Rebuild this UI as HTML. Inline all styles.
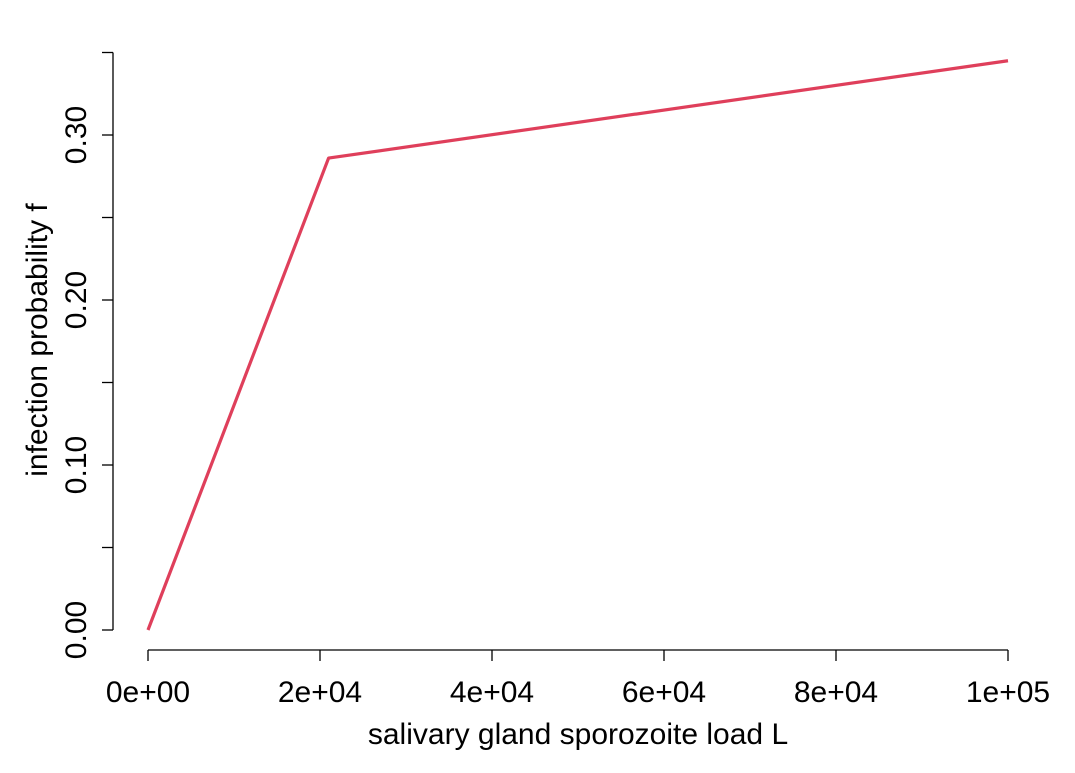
<!DOCTYPE html>
<html><head><meta charset="utf-8"><style>
body{margin:0;background:#fff;}
svg text{font-family:"Liberation Sans",Arial,sans-serif;fill:#000;}
</style></head><body>
<svg width="1075" height="768" viewBox="0 0 1075 768" xmlns="http://www.w3.org/2000/svg">
<g id="axes"></g>
<polyline id="line" fill="none" stroke="#DF3F5B" stroke-width="3.2" stroke-linejoin="round"></polyline>
<text x="578" y="744" font-size="30" text-anchor="middle">salivary gland sporozoite load L</text>
<text transform="translate(47,340) rotate(-90)" font-size="30" text-anchor="middle">infection probability f</text>
</svg>
<script>
const xTicks=[0,20000,40000,60000,80000,100000];
const xTickLabels=["0e+00","2e+04","4e+04","6e+04","8e+04","1e+05"];
const yTicks=[0,0.05,0.1,0.15,0.2,0.25,0.3,0.35];
const yTickLabels=["0.00","","0.10","","0.20","","0.30",""];
const loadL=[0,21000,100000];
const probF=[0,0.286,0.345];
const sx=v=>148+v/100000*860;
const sy=v=>630-v/0.3*495;
const NS="http://www.w3.org/2000/svg";
const g=document.getElementById('axes');
function mk(t,a){const e=document.createElementNS(NS,t);for(const k in a)e.setAttribute(k,a[k]);g.appendChild(e);return e;}
let e=mk('line',{x1:sx(0),x2:sx(100000),y1:650,y2:650,stroke:'#000','stroke-width':1.3});


e=mk('line',{x1:113,x2:113,y1:sy(0),y2:sy(0.35),stroke:'#000','stroke-width':1.3});


xTicks.forEach((v,i)=>{
 const t=mk('line',{x1:sx(v),x2:sx(v),y1:650,y2:661,stroke:'#000','stroke-width':1.3});
 
 
 const l=mk('text',{x:sx(v),y:702,'font-size':30,'text-anchor':'middle'});
 l.textContent=xTickLabels[i];
 
 
});
yTicks.forEach((v,i)=>{
 const t=mk('line',{x1:102,x2:113,y1:sy(v),y2:sy(v),stroke:'#000','stroke-width':1.3});
 
 
 if(yTickLabels[i]){
  const l=mk('text',{transform:`translate(86,${sy(v)}) rotate(-90)`,'font-size':30,'text-anchor':'middle'});
  l.textContent=yTickLabels[i];
  
  
 }
});
document.getElementById('line').setAttribute('points',loadL.map((x,i)=>sx(x)+','+sy(probF[i])).join(' '));
</script>
</body></html>
